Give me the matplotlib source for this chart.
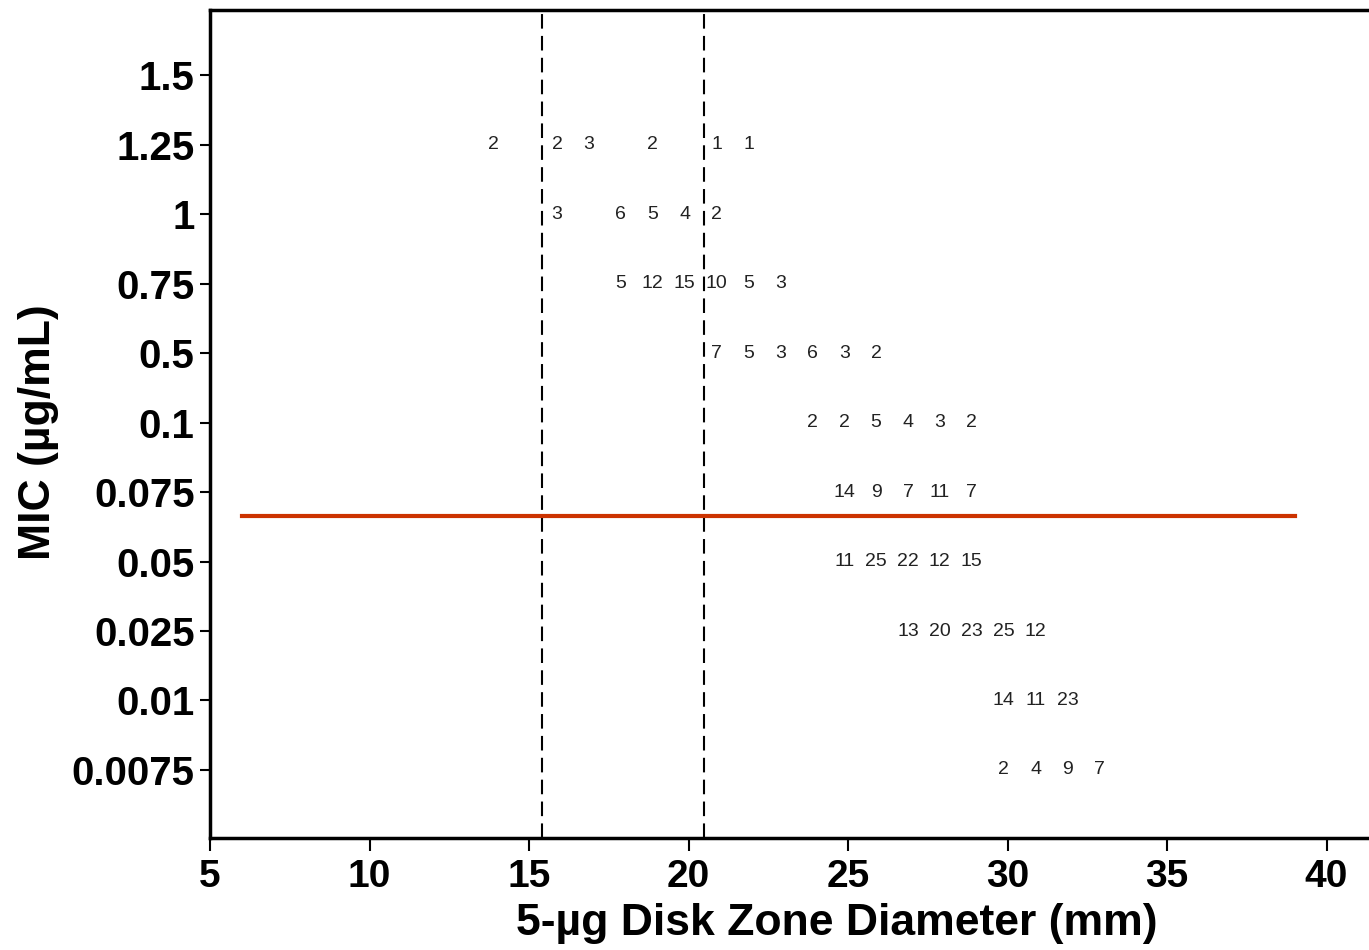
import numpy as np
import matplotlib.pyplot as plt

# MIC categories, bottom to top
mic_labels = ['0.0075', '0.01', '0.025', '0.05', '0.075', '0.1',
              '0.5', '0.75', '1', '1.25', '1.5']

# zone diameters (mm) and isolate counts for each MIC row (same order)
diameters = [
    [30, 31, 32, 33],
    [30, 31, 32],
    [27, 28, 29, 30, 31],
    [25, 26, 27, 28, 29],
    [25, 26, 27, 28, 29],
    [24, 25, 26, 27, 28, 29],
    [21, 22, 23, 24, 25, 26],
    [18, 19, 20, 21, 22, 23],
    [16, 18, 19, 20, 21],
    [14, 16, 17, 19, 21, 22],
    [],
]
counts = [
    [2, 4, 9, 7],
    [14, 11, 23],
    [13, 20, 23, 25, 12],
    [11, 25, 22, 12, 15],
    [14, 9, 7, 11, 7],
    [2, 2, 5, 4, 3, 2],
    [7, 5, 3, 6, 3, 2],
    [5, 12, 15, 10, 5, 3],
    [3, 6, 5, 4, 2],
    [2, 2, 3, 2, 1, 1],
    [],
]

zone_breakpoints = [15.4, 20.5]
mic_breakpoint = 3.65      # between 0.05 and 0.075 rows
mic_line_span = [6, 39]

plt.rcParams['font.family'] = ['Liberation Sans', 'DejaVu Sans']

fig = plt.figure(figsize=(13.69, 9.5), dpi=100)
ax = fig.add_axes([210 / 1369, 1 - 838 / 950, 1 - 210 / 1369, 828 / 950])

ypos = np.arange(len(mic_labels))
for y, ds, cs in zip(ypos, diameters, counts):
    for d, c in zip(ds, cs):
        ax.text(d - 0.12, y, str(c), ha='center', va='center',
                fontsize=14, color='#222222')

for b in zone_breakpoints:
    ax.axvline(b, color='black', lw=1.5, linestyle=(0, (7, 3.5)))

ax.plot(mic_line_span, [mic_breakpoint] * 2, color='#cc3300', lw=3)

ax.set_xlim(5, 5 + (1369 - 210) / 31.9)
ax.set_ylim(-0.98, 10.94)
ax.set_xticks(np.arange(5, 45, 5))
ax.set_yticks(ypos)
ax.set_yticklabels(mic_labels)

for lab in ax.get_xticklabels() + ax.get_yticklabels():
    lab.set_fontweight('bold')
ax.tick_params(axis='x', labelsize=28, length=9, width=1.5, pad=6)
ax.tick_params(axis='y', labelsize=29, length=7, width=1.5, pad=4)

ax.spines['right'].set_visible(False)
for s in ['left', 'bottom', 'top']:
    ax.spines[s].set_linewidth(2.5)

ax.set_xlabel('5-µg Disk Zone Diameter (mm)', fontsize=32, fontweight='bold')
ax.xaxis.set_label_coords(0.541, -0.078)
ax.set_ylabel('MIC (µg/mL)', fontsize=32, fontweight='bold')
ax.yaxis.set_label_coords(-0.13, 0.49)

fig.savefig('out.png', dpi=100)
plt.close(fig)
